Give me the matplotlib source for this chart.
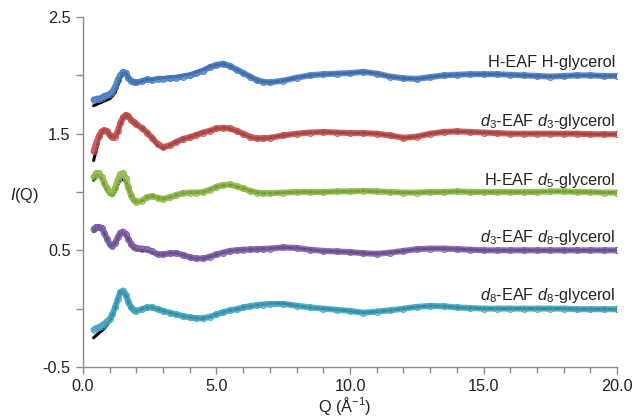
import matplotlib
matplotlib.use("Agg")
import matplotlib.pyplot as plt
from matplotlib.ticker import MultipleLocator

plt.rcParams['font.family'] = ['Liberation Sans', 'DejaVu Sans']
plt.rcParams['mathtext.fontset'] = 'custom'
plt.rcParams['mathtext.rm'] = 'Liberation Sans'
plt.rcParams['mathtext.it'] = 'Liberation Sans:italic'
plt.rcParams['mathtext.bf'] = 'Liberation Sans:bold'

# ---------------- data ----------------
Q = [0.4, 0.5, 0.6, 0.7, 0.8, 0.9, 1.0, 1.1, 1.2, 1.3, 1.4, 1.5, 1.6, 1.7, 1.8, 1.9,
     2.0, 2.2, 2.4, 2.6, 2.8, 3.0, 3.25, 3.5, 3.75, 4.0, 4.25, 4.5, 4.75, 5.0, 5.25,
     5.5, 5.75, 6.0, 6.25, 6.5, 6.75, 7.0, 7.5, 8.0, 8.5, 9.0, 9.5, 10.0, 10.5, 11.0,
     11.5, 12.0, 12.5, 13.0, 13.5, 14.0, 14.5, 15.0, 15.5, 16.0, 16.5, 17.0, 17.5,
     18.0, 18.5, 19.0, 19.5, 20.0]

h_h = [1.79, 1.80, 1.80, 1.81, 1.82, 1.83, 1.84, 1.86, 1.90, 1.96, 2.00, 2.03, 2.02, 1.98, 1.955, 1.945,
       1.94, 1.95, 1.965, 1.96, 1.97, 1.97, 1.975, 1.98, 1.99, 2.00, 2.02, 2.04, 2.07, 2.09, 2.10,
       2.08, 2.05, 2.02, 1.99, 1.96, 1.945, 1.94, 1.955, 1.98, 2.00, 2.01, 2.015, 2.02, 2.03, 2.015,
       1.99, 1.975, 1.97, 1.985, 2.00, 2.005, 2.01, 2.01, 2.01, 2.005, 2.00, 1.995, 1.99,
       1.995, 2.00, 2.00, 1.995, 1.995]
h_h_fit = [1.74, 1.75, 1.76, 1.77, 1.78, 1.79, 1.80, 1.82, 1.85, 1.91, 1.97, 2.02, 2.02, 1.98, 1.955, 1.945,
           1.94, 1.95, 1.965, 1.965, 1.975, 1.98, 1.985, 1.99, 2.00, 2.01, 2.03, 2.05, 2.075, 2.09, 2.10,
           2.08, 2.05, 2.02, 1.99, 1.96, 1.945, 1.94, 1.955, 1.98, 2.00, 2.01, 2.015, 2.02, 2.03, 2.015,
           1.99, 1.975, 1.97, 1.985, 2.00, 2.005, 2.01, 2.01, 2.01, 2.005, 2.00, 1.995, 1.99,
           1.995, 2.00, 2.00, 1.995, 1.995]

d3_d3 = [1.35, 1.42, 1.48, 1.52, 1.53, 1.52, 1.49, 1.47, 1.475, 1.52, 1.59, 1.64, 1.66, 1.65, 1.62, 1.60,
         1.58, 1.55, 1.51, 1.46, 1.41, 1.385, 1.40, 1.43, 1.455, 1.47, 1.49, 1.51, 1.525, 1.545, 1.55,
         1.545, 1.525, 1.50, 1.475, 1.46, 1.46, 1.465, 1.485, 1.50, 1.51, 1.515, 1.51, 1.505, 1.505, 1.50,
         1.485, 1.465, 1.475, 1.50, 1.515, 1.52, 1.515, 1.51, 1.505, 1.50, 1.50, 1.50, 1.50,
         1.50, 1.50, 1.495, 1.495, 1.495]
d3_d3_fit = [1.27, 1.36, 1.45, 1.51, 1.53, 1.52, 1.49, 1.47, 1.47, 1.50, 1.57, 1.63, 1.66, 1.65, 1.62, 1.60,
             1.58, 1.55, 1.51, 1.46, 1.40, 1.375, 1.40, 1.43, 1.455, 1.47, 1.49, 1.51, 1.525, 1.545, 1.55,
             1.54, 1.52, 1.495, 1.47, 1.46, 1.46, 1.465, 1.485, 1.50, 1.51, 1.515, 1.51, 1.505, 1.505, 1.50,
             1.485, 1.465, 1.475, 1.50, 1.515, 1.52, 1.515, 1.51, 1.505, 1.50, 1.50, 1.50, 1.50,
             1.50, 1.50, 1.495, 1.495, 1.495]

h_d5 = [1.13, 1.16, 1.16, 1.13, 1.08, 1.03, 1.00, 0.99, 1.03, 1.10, 1.15, 1.16, 1.12, 1.04, 0.97, 0.93,
        0.915, 0.925, 0.955, 0.965, 0.95, 0.94, 0.955, 0.975, 0.99, 0.995, 0.995, 1.00, 1.02, 1.045, 1.06,
        1.065, 1.05, 1.03, 1.01, 0.995, 0.99, 0.99, 0.995, 1.00, 1.00, 1.00, 1.005, 1.005, 1.01, 1.005,
        1.00, 0.995, 0.995, 1.00, 1.00, 1.005, 1.00, 1.00, 1.00, 1.00, 1.00, 1.00, 1.005,
        1.005, 1.00, 1.00, 0.995, 0.995]
h_d5_fit = [1.10, 1.14, 1.14, 1.11, 1.06, 1.01, 0.98, 0.97, 1.00, 1.06, 1.10, 1.11, 1.09, 1.03, 0.97, 0.93,
            0.915, 0.925, 0.955, 0.965, 0.95, 0.94, 0.955, 0.975, 0.99, 0.995, 0.995, 1.00, 1.02, 1.045, 1.055,
            1.06, 1.045, 1.03, 1.01, 0.995, 0.99, 0.99, 0.995, 1.00, 1.00, 1.00, 1.005, 1.005, 1.01, 1.005,
            1.00, 0.995, 0.995, 1.00, 1.00, 1.005, 1.00, 1.00, 1.00, 1.00, 1.00, 1.00, 1.005,
            1.005, 1.00, 1.00, 0.995, 0.995]

d3_d8 = [0.68, 0.70, 0.70, 0.69, 0.65, 0.60, 0.555, 0.535, 0.56, 0.61, 0.65, 0.66, 0.64, 0.60, 0.555, 0.53,
         0.52, 0.515, 0.51, 0.49, 0.465, 0.465, 0.475, 0.475, 0.46, 0.44, 0.43, 0.43, 0.445, 0.465, 0.48,
         0.495, 0.50, 0.505, 0.507, 0.51, 0.512, 0.515, 0.525, 0.52, 0.505, 0.495, 0.49, 0.485, 0.475, 0.47,
         0.48, 0.495, 0.51, 0.515, 0.515, 0.51, 0.505, 0.50, 0.50, 0.50, 0.50, 0.50, 0.50,
         0.50, 0.50, 0.50, 0.50, 0.50]
d3_d8_fit = [0.66, 0.69, 0.70, 0.69, 0.65, 0.60, 0.555, 0.535, 0.56, 0.60, 0.64, 0.65, 0.63, 0.595, 0.55, 0.52,
             0.505, 0.50, 0.495, 0.48, 0.465, 0.465, 0.475, 0.475, 0.46, 0.44, 0.43, 0.43, 0.445, 0.465, 0.48,
             0.495, 0.50, 0.505, 0.507, 0.51, 0.512, 0.515, 0.525, 0.52, 0.505, 0.495, 0.49, 0.485, 0.475, 0.47,
             0.48, 0.495, 0.51, 0.515, 0.515, 0.51, 0.505, 0.50, 0.50, 0.50, 0.50, 0.50, 0.50,
             0.50, 0.50, 0.50, 0.50, 0.50]

d8_d8 = [-0.18, -0.17, -0.16, -0.145, -0.13, -0.11, -0.09, -0.05, 0.01, 0.08, 0.14, 0.155, 0.12, 0.06, 0.01, -0.015,
         -0.02, -0.005, 0.01, 0.01, -0.005, -0.02, -0.035, -0.05, -0.065, -0.075, -0.082, -0.082, -0.07, -0.05, -0.03,
         -0.015, -0.005, 0.01, 0.02, 0.03, 0.035, 0.04, 0.04, 0.025, 0.01, 0.0, -0.01, -0.02, -0.035, -0.025,
         -0.015, 0.0, 0.015, 0.023, 0.02, 0.01, 0.005, 0.0, 0.0, 0.0, 0.0, 0.0, 0.0,
         0.0, -0.005, -0.005, -0.005, -0.005]
d8_d8_fit = [-0.25, -0.23, -0.21, -0.19, -0.17, -0.14, -0.11, -0.06, 0.00, 0.08, 0.14, 0.15, 0.12, 0.06, 0.01, -0.015,
             -0.02, -0.005, 0.01, 0.01, -0.005, -0.02, -0.035, -0.05, -0.065, -0.075, -0.082, -0.082, -0.07, -0.05, -0.03,
             -0.015, -0.005, 0.01, 0.02, 0.03, 0.04, 0.045, 0.045, 0.025, 0.01, 0.0, -0.01, -0.02, -0.035, -0.025,
             -0.015, 0.0, 0.015, 0.023, 0.02, 0.01, 0.005, 0.0, 0.0, 0.0, 0.0, 0.0, 0.0,
             0.0, -0.005, -0.005, -0.005, -0.005]

labels = ['H-EAF H-glycerol',
          r'$\it{d}_3$-EAF $\it{d}_3$-glycerol',
          r'H-EAF $\it{d}_5$-glycerol',
          r'$\it{d}_3$-EAF $\it{d}_8$-glycerol',
          r'$\it{d}_8$-EAF $\it{d}_8$-glycerol']
label_y = [2.074, 1.568, 1.06, 0.574, 0.0745]
colors = ['#4a7cc2', '#c0504d', '#8db944', '#7d5ca6', '#3fa6c0']
data = [h_h, d3_d3, h_d5, d3_d8, d8_d8]
fits = [h_h_fit, d3_d3_fit, h_d5_fit, d3_d8_fit, d8_d8_fit]

# ---------------- figure ----------------
fig = plt.figure(figsize=(6.33, 4.16), dpi=100)
ax = fig.add_axes([0.131, 0.118, 0.844, 0.841])

FS = 11.7
for vals, fit, col, lab, ly in zip(data, fits, colors, labels, label_y):
    ax.plot(Q, fit, color='black', lw=2.2, zorder=2, solid_capstyle='round')
    ax.plot(Q, vals, color=col, lw=4.4, alpha=0.85, zorder=3, solid_capstyle='round')
    ax.plot(Q, vals, ls='none', marker='o', ms=4.2, mfc='none', mec=col, mew=0.8,
            alpha=0.9, zorder=4)
    ax.text(19.95, ly, lab, ha='right', va='baseline', fontsize=FS, color='#222222')

ax.set_xlim(0, 20)
ax.set_ylim(-0.5, 2.5)

ax.set_xticks([0, 5, 10, 15, 20])
ax.set_xticklabels(['0.0', '5.0', '10.0', '15.0', '20.0'])
ax.xaxis.set_minor_locator(MultipleLocator(1))

ax.set_yticks([-0.5, 0.0, 0.5, 1.0, 1.5, 2.0, 2.5])
ax.set_yticklabels(['-0.5', '', '0.5', '', '1.5', '', '2.5'])

for side in ['top', 'right']:
    ax.spines[side].set_visible(False)
for side in ['left', 'bottom']:
    ax.spines[side].set_color('#8c8c8c')
    ax.spines[side].set_linewidth(1.0)

ax.tick_params(axis='both', which='major', direction='out', length=5, width=1,
               color='#8c8c8c', labelsize=FS, labelcolor='#222222', pad=4)
ax.tick_params(axis='x', which='minor', direction='out', length=4, width=1, color='#8c8c8c')

ax.text(0.49, -0.111, r'Q (Å$^{-1}$)', transform=ax.transAxes, ha='center', va='center',
        fontsize=FS, color='#222222')
ax.text(-0.109, (0.93 + 0.5) / 3.0, r'$\it{I}$(Q)', transform=ax.transAxes,
        ha='center', va='baseline', fontsize=FS, color='#222222')

fig.savefig('out.png', dpi=100)
